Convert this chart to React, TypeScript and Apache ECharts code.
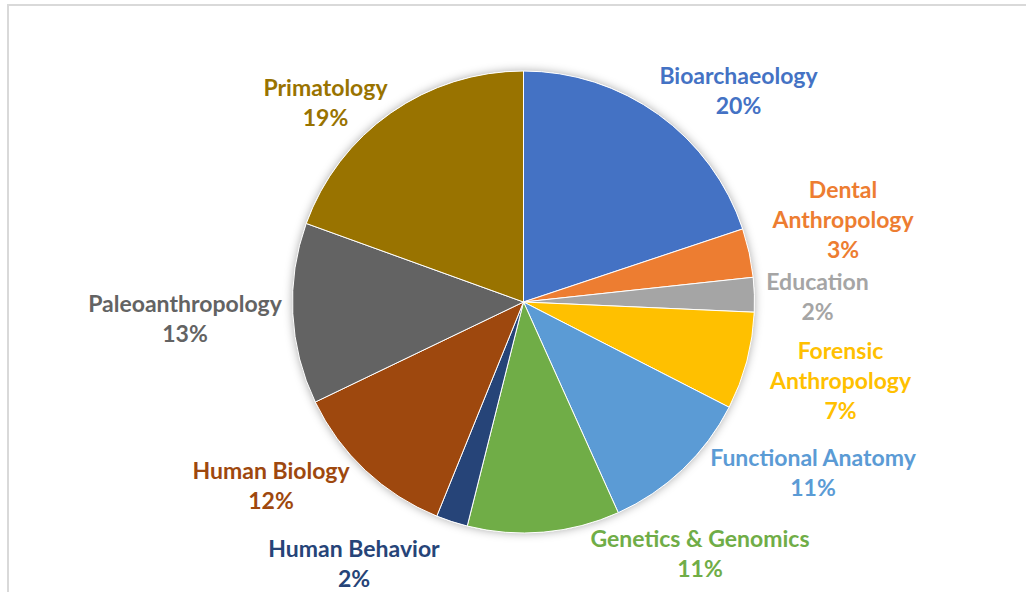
import React, { useEffect, useRef } from "react";
import * as echarts from "echarts";

const categories = [
  "Bioarchaeology",
  "Dental Anthropology",
  "Education",
  "Forensic Anthropology",
  "Functional Anatomy",
  "Genetics & Genomics",
  "Human Behavior",
  "Human Biology",
  "Paleoanthropology",
  "Primatology",
];
const values = [19.8, 3.4, 2.4, 6.8, 10.7, 10.6, 2.2, 11.7, 12.6, 19.4];
const colors = [
  "#4472C4",
  "#ED7D31",
  "#A5A5A5",
  "#FFC000",
  "#5B9BD5",
  "#70AD47",
  "#264478",
  "#9E480E",
  "#636363",
  "#997300",
];

// label block centres (page pixels), Excel "best fit" placement
const LABEL_POS: [number, number][] = [
  [738.5, 89.5],
  [843, 218.5],
  [817.5, 296],
  [840.5, 379.5],
  [813, 472],
  [700, 553],
  [354, 563],
  [271, 484.5],
  [185, 318],
  [325.5, 101.5],
];

const FONT = "Lato, 'Noto Sans', sans-serif";

export default function App() {
  const ref = useRef<HTMLDivElement>(null);
  useEffect(() => {
    const chart = echarts.init(ref.current!, undefined, { renderer: "svg" });
    chart.setOption({
      animation: false,
      backgroundColor: "#fff",
      graphic: [
        {
          type: "rect",
          shape: { x: 8, y: 5, width: 1040, height: 620 },
          style: { fill: "none", stroke: "#d9d9d9", lineWidth: 2 },
          z: 0,
        },
      ],
      series: [
        {
          type: "pie",
          silent: true,
          center: [523.5, 302],
          radius: 231,
          z: 1,
          label: { show: false },
          labelLine: { show: false },
          itemStyle: {
            color: "#ffffff",
            shadowBlur: 10,
            shadowColor: "rgba(0,0,0,0.35)",
          },
          data: [{ value: 1, name: "" }],
        },
        {
          type: "pie",
          center: [523.5, 302],
          radius: 231,
          startAngle: 90,
          clockwise: true,
          z: 2,
          itemStyle: { borderColor: "#ffffff", borderWidth: 1 },
          labelLine: { show: false },
          label: {
            show: true,
            position: "outside",
            fontFamily: FONT,
            fontWeight: "bold",
            fontSize: 23,
            lineHeight: 30,
            align: "center",
            formatter: (p: any) =>
              p.name.replace(" Anthropology", "\nAnthropology") +
              "\n" +
              Math.round(p.percent) +
              "%",
          },
          labelLayout: (p: any) => {
            const pos = LABEL_POS[p.dataIndex];
            return {
              x: pos[0],
              y: pos[1],
              align: "center",
              verticalAlign: "middle",
            };
          },
          data: categories.map((c, i) => ({
            name: c,
            value: values[i],
            itemStyle: { color: colors[i] },
            label: { color: colors[i] },
          })),
        },
      ],
    });
    return () => chart.dispose();
  }, []);
  return (
    <div
      ref={ref}
      style={{ position: "fixed", left: 0, top: 0, width: 1026, height: 592 }}
    />
  );
}
